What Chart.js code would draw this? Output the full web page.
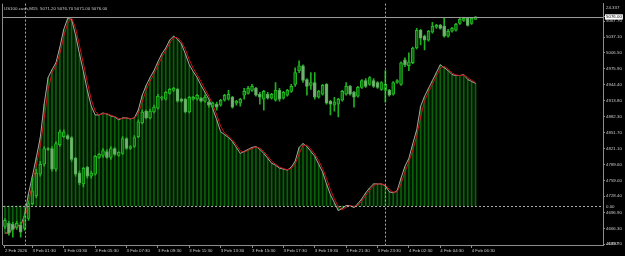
<!DOCTYPE html>
<html>
<head>
<meta charset="utf-8">
<script src="https://cdn.jsdelivr.net/npm/chart.js@4.4.1/dist/chart.umd.min.js"></script>
<style>
  html, body { margin: 0; padding: 0; background: #000; }
</style>
</head>
<body>
<canvas id="chart" width="625" height="256"></canvas>
<script>
// US100.cash M15 candles + oscillator overlay, 2-4 Feb 2026
const title = 'US100.cash,M15  5071.20 5076.70 5071.00 5076.00';
const slotCount = 153; // bars shown incl. empty shift on the right

const tickIndex = [0, 7, 15, 23, 31, 39, 47, 55, 63, 71, 79, 87, 95, 103, 111, 119];
const tickText = ['2 Feb 2026', '3 Feb 01:30', '3 Feb 03:30', '3 Feb 05:30', '3 Feb 07:30', '3 Feb 09:30',
    '3 Feb 11:30', '3 Feb 13:30', '3 Feb 15:30', '3 Feb 17:30', '3 Feb 19:30', '3 Feb 21:30',
    '3 Feb 23:30', '4 Feb 02:30', '4 Feb 04:30', '4 Feb 06:30'];
const daySeparators = [5, 97];

const priceTicks = [5067.70, 5037.10, 5006.50, 4975.90, 4944.40, 4913.80, 4882.30, 4851.70,
    4821.10, 4789.60, 4759.00, 4728.40, 4696.90, 4666.30, 4635.70];
const bidPrice = 5076.00;
const priceMin = 4634.0;
const priceMax = 5101.8;
const oscMin = -4.697;
const oscMax = 24.337;

const open = [4670.1, 4675.9, 4673.9, 4668.2, 4672.0, 4666.3, 4685.4, 4714.1, 4729.4, 4771.4,
    4790.5, 4821.0, 4821.0, 4780.9, 4828.7, 4843.9, 4845.9, 4842.0, 4801.9, 4773.3,
    4752.3, 4784.7, 4767.5, 4771.4, 4803.8, 4807.7, 4815.3, 4803.8, 4821.0, 4807.7,
    4811.5, 4840.1, 4821.0, 4824.9, 4843.9, 4870.7, 4893.6, 4880.2, 4891.7, 4899.3,
    4918.4, 4916.5, 4928.0, 4933.7, 4935.6, 4916.5, 4916.5, 4891.7, 4916.5, 4916.5,
    4918.4, 4912.7, 4910.8, 4903.2, 4907.0, 4905.1, 4914.6, 4916.5, 4920.4, 4908.9,
    4908.9, 4924.2, 4928.0, 4933.7, 4937.5, 4926.1, 4916.5, 4926.1, 4918.4, 4914.6,
    4933.7, 4918.4, 4924.2, 4931.8, 4945.2, 4971.9, 4981.5, 4954.7, 4943.3, 4949.0,
    4920.4, 4926.1, 4945.2, 4912.7, 4905.1, 4907.0, 4914.6, 4926.1, 4941.4, 4929.9,
    4922.3, 4939.4, 4952.8, 4945.2, 4952.8, 4949.0, 4935.6, 4933.7, 4933.7, 4926.1,
    4949.0, 4945.2, 4992.9, 4981.5, 4987.2, 5015.9, 5050.2, 5038.8, 5031.1, 5046.4,
    5056.0, 5059.8, 5057.9, 5038.8, 5048.3, 5050.2, 5063.6, 5069.3, 5073.2, 5063.6,
    5071.2];
const high = [4685.4, 4679.7, 4677.8, 4679.7, 4677.8, 4693.1, 4719.8, 4763.7, 4780.9, 4796.2,
    4824.9, 4822.9, 4824.9, 4834.4, 4857.3, 4857.3, 4847.8, 4843.9, 4803.8, 4777.1,
    4784.7, 4786.7, 4777.1, 4807.7, 4811.5, 4821.0, 4819.1, 4824.9, 4822.9, 4815.3,
    4843.9, 4842.0, 4826.8, 4845.9, 4876.4, 4895.5, 4895.5, 4897.4, 4905.1, 4926.1,
    4922.3, 4931.8, 4937.5, 4939.4, 4937.5, 4918.4, 4918.4, 4922.3, 4922.3, 4926.1,
    4920.4, 4924.2, 4912.7, 4910.8, 4910.8, 4916.5, 4926.1, 4933.7, 4922.3, 4914.6,
    4918.4, 4937.5, 4941.4, 4945.2, 4939.4, 4929.9, 4933.7, 4929.9, 4928.0, 4949.0,
    4937.5, 4931.8, 4935.6, 4945.2, 4977.6, 4991.0, 4983.4, 4956.6, 4968.1, 4968.1,
    4933.7, 4945.2, 4947.1, 4914.6, 4920.4, 4918.4, 4933.7, 4949.0, 4943.3, 4931.8,
    4941.4, 4954.7, 4956.6, 4960.5, 4956.6, 4950.9, 4950.9, 4971.9, 4935.6, 4950.9,
    4954.7, 4989.1, 4996.7, 5006.3, 5017.8, 5054.0, 5052.1, 5040.7, 5050.2, 5065.5,
    5061.7, 5061.7, 5073.2, 5052.1, 5056.0, 5063.6, 5073.2, 5075.1, 5075.1, 5075.1,
    5076.7];
const low = [4666.3, 4653.0, 4649.1, 4664.4, 4649.1, 4662.5, 4681.6, 4712.2, 4725.5, 4767.5,
    4786.7, 4817.2, 4777.1, 4777.1, 4824.9, 4842.0, 4838.2, 4796.2, 4767.5, 4750.4,
    4746.5, 4763.7, 4763.7, 4769.5, 4801.9, 4803.8, 4801.9, 4800.0, 4807.7, 4805.8,
    4809.6, 4819.1, 4819.1, 4822.9, 4842.0, 4868.8, 4878.3, 4878.3, 4889.8, 4897.4,
    4914.6, 4914.6, 4926.1, 4931.8, 4910.8, 4910.8, 4889.8, 4889.8, 4914.6, 4914.6,
    4910.8, 4910.8, 4901.3, 4899.3, 4895.5, 4903.2, 4912.7, 4914.6, 4899.3, 4905.1,
    4903.2, 4916.5, 4926.1, 4931.8, 4922.3, 4907.0, 4895.5, 4916.5, 4916.5, 4912.7,
    4912.7, 4916.5, 4922.3, 4929.9, 4941.4, 4968.1, 4949.0, 4924.2, 4935.6, 4916.5,
    4918.4, 4924.2, 4907.0, 4886.0, 4893.6, 4882.2, 4912.7, 4924.2, 4924.2, 4901.3,
    4920.4, 4937.5, 4939.4, 4943.3, 4939.4, 4937.5, 4933.7, 4910.8, 4922.3, 4924.2,
    4947.1, 4943.3, 4979.6, 4971.9, 4985.3, 5013.9, 5021.6, 5012.0, 5029.2, 5044.5,
    5054.0, 5052.1, 5036.9, 5036.9, 5046.4, 5048.3, 5061.7, 5067.4, 5057.9, 5061.7,
    5071.0];
const close = [4681.6, 4656.8, 4664.4, 4675.9, 4658.7, 4689.2, 4714.1, 4738.9, 4773.3, 4790.5,
    4821.0, 4819.1, 4780.9, 4830.6, 4853.5, 4853.5, 4840.1, 4800.0, 4771.4, 4754.2,
    4782.8, 4767.5, 4773.3, 4805.8, 4809.6, 4817.2, 4803.8, 4821.0, 4809.6, 4813.4,
    4840.1, 4821.0, 4824.9, 4842.0, 4872.6, 4891.7, 4880.2, 4893.6, 4901.3, 4922.3,
    4920.4, 4929.9, 4935.6, 4937.5, 4912.7, 4912.7, 4891.7, 4920.4, 4920.4, 4924.2,
    4912.7, 4920.4, 4905.1, 4908.9, 4901.3, 4914.6, 4924.2, 4926.1, 4901.3, 4912.7,
    4916.5, 4931.8, 4937.5, 4941.4, 4924.2, 4920.4, 4931.8, 4918.4, 4926.1, 4933.7,
    4916.5, 4929.9, 4933.7, 4941.4, 4968.1, 4981.5, 4952.8, 4941.4, 4949.0, 4920.4,
    4931.8, 4943.3, 4908.9, 4907.0, 4910.8, 4916.5, 4931.8, 4941.4, 4926.1, 4920.4,
    4939.4, 4952.8, 4941.4, 4958.6, 4941.4, 4939.4, 4949.0, 4945.2, 4924.2, 4949.0,
    4952.8, 4987.2, 4983.4, 4989.1, 5015.9, 5050.2, 5034.9, 5031.1, 5048.3, 5057.9,
    5059.8, 5054.0, 5038.8, 5048.3, 5054.0, 5061.7, 5071.2, 5073.2, 5059.8, 5073.2,
    5076.0];

// oscillator: histogram + main line share values, red = signal
const osc = [-3.27, -3.27, -2.68, -2.33, -2.33, -1.14, 1.47, 3.60, 5.85, 8.22,
    12.25, 15.45, 16.40, 17.23, 19.12, 21.26, 22.56, 22.44, 20.55, 18.30,
    16.16, 13.91, 12.01, 10.95, 10.95, 11.18, 11.06, 10.83, 10.71, 10.36,
    10.59, 10.59, 10.47, 10.59, 11.54, 13.32, 14.50, 15.45, 16.28, 17.35,
    18.30, 19.00, 19.95, 20.43, 20.07, 19.48, 18.30, 16.99, 16.16, 15.45,
    14.50, 13.67, 12.84, 11.66, 10.36, 8.93, 8.58, 8.22, 7.75, 7.04,
    6.32, 6.56, 6.80, 7.04, 7.15, 6.80, 6.32, 5.73, 5.14, 4.90,
    4.55, 4.43, 4.31, 4.67, 5.38, 7.04, 7.51, 7.15, 6.56, 5.97,
    5.02, 4.07, 2.65, 1.35, 0.40, -0.55, -0.31, 0.05, 0.05, -0.19,
    0.28, 0.87, 1.58, 2.18, 2.65, 2.65, 2.65, 2.41, 1.70, 1.58,
    1.82, 3.36, 4.78, 5.73, 7.51, 9.17, 12.01, 13.20, 14.15, 15.09,
    16.04, 16.99, 16.64, 16.28, 15.80, 15.69, 15.69, 15.80, 15.21, 14.98,
    14.74];
const signal = [-3.30, -3.27, -2.90, -2.50, -2.33, -1.60, 0.40, 2.70, 4.90, 7.20,
    10.50, 14.00, 16.00, 16.90, 18.30, 20.40, 22.00, 22.60, 21.40, 19.30,
    17.10, 14.90, 12.80, 11.40, 10.95, 11.10, 11.10, 10.90, 10.75, 10.50,
    10.50, 10.59, 10.52, 10.55, 11.10, 12.50, 13.95, 15.00, 15.90, 16.85,
    17.90, 18.70, 19.55, 20.25, 20.25, 19.75, 18.85, 17.60, 16.55, 15.80,
    14.95, 14.05, 13.20, 12.20, 10.95, 9.60, 8.75, 8.40, 7.95, 7.35,
    6.65, 6.45, 6.70, 6.90, 7.10, 6.95, 6.55, 6.00, 5.40, 5.00,
    4.70, 4.50, 4.35, 4.50, 5.05, 6.25, 7.30, 7.30, 6.85, 6.25,
    5.45, 4.50, 3.30, 1.95, 0.85, -0.10, -0.45, -0.15, 0.05, -0.08,
    0.08, 0.60, 1.25, 1.90, 2.45, 2.65, 2.65, 2.50, 2.00, 1.65,
    1.70, 2.65, 4.10, 5.30, 6.70, 8.40, 10.70, 12.65, 13.70, 14.65,
    15.60, 16.55, 16.80, 16.45, 16.00, 15.75, 15.69, 15.75, 15.45, 15.10,
    14.85];

const labels = Array.from({ length: slotCount }, (_, i) => {
    const k = tickIndex.indexOf(i);
    return k >= 0 ? tickText[k] : '';
});
const isBull = i => close[i] >= open[i];

const FONT = 'Liberation Sans';
const TXT = '#c8c8c8';
const AXIS = '#8c8c8c';
Chart.defaults.font.family = FONT;
Chart.defaults.font.size = 4.4;

// separators, zero level, bid line, frame and the oscillator labels
const overlay = {
    id: 'overlay',
    afterDatasetsDraw(chart) {
        const { ctx, chartArea: a, scales } = chart;
        const x = scales.x, y = scales.y, yi = scales.yi;
        ctx.save();
        ctx.lineWidth = 1;
        ctx.strokeStyle = '#a8a8a8';
        ctx.setLineDash([2, 2]);
        daySeparators.forEach(i => {
            const px = Math.round(x.getPixelForValue(i)) + 0.5;
            ctx.beginPath(); ctx.moveTo(px, a.top); ctx.lineTo(px, a.bottom); ctx.stroke();
        });
        const zy = Math.round(yi.getPixelForValue(0)) + 0.5;
        ctx.beginPath(); ctx.moveTo(a.left, zy); ctx.lineTo(a.right, zy); ctx.stroke();
        ctx.setLineDash([]);
        ctx.strokeStyle = '#9a9a9a';
        const by = Math.round(y.getPixelForValue(bidPrice)) + 0.5;
        ctx.beginPath(); ctx.moveTo(a.left, by); ctx.lineTo(a.right, by); ctx.stroke();
        ctx.strokeStyle = AXIS;
        ctx.beginPath(); ctx.moveTo(a.left - 0.5, a.top); ctx.lineTo(a.left - 0.5, a.bottom); ctx.stroke();

        ctx.font = '4.4px "' + FONT + '"';
        ctx.fillStyle = TXT;
        ctx.textBaseline = 'middle';
        ctx.textAlign = 'left';
        ctx.fillText(title, a.left + 1, a.top + 5);
        ctx.fillText(oscMax.toFixed(3), a.right + 3, a.top + 4);
        ctx.fillText('0.00', a.right + 3, zy);
        ctx.fillText(oscMin.toFixed(3), a.right + 3, a.bottom - 1);
        ctx.restore();
    }
};

new Chart(document.getElementById('chart'), {
    type: 'bar',
    data: {
        labels: labels,
        datasets: [
            {
                // histogram of the oscillator
                type: 'bar',
                data: osc,
                yAxisID: 'yi',
                grouped: false,
                barThickness: 1,
                backgroundColor: '#0b600b',
                order: 6
            },
            {
                type: 'line',
                data: osc,
                yAxisID: 'yi',
                borderColor: '#a8a8a8',
                borderWidth: 1,
                pointRadius: 0,
                fill: { value: 0 },
                backgroundColor: 'rgba(0, 22, 0, 1)',
                order: 5
            },
            {
                type: 'line',
                data: signal,
                yAxisID: 'yi',
                borderColor: '#c81414',
                borderWidth: 1,
                pointRadius: 0,
                fill: false,
                order: 4
            },
            {
                // wicks
                type: 'bar',
                data: low.map((l, i) => [l, high[i]]),
                yAxisID: 'y',
                grouped: false,
                barThickness: 1,
                backgroundColor: '#1fb01f',
                order: 2
            },
            {
                // bodies
                type: 'bar',
                data: open.map((o, i) => [Math.min(o, close[i]), Math.max(o, close[i])]),
                yAxisID: 'y',
                grouped: false,
                barThickness: 3,
                minBarLength: 1,
                borderSkipped: false,
                borderWidth: 1,
                borderColor: ctx => isBull(ctx.dataIndex) ? '#22b822' : '#5aa85a',
                backgroundColor: ctx => isBull(ctx.dataIndex) ? '#0d6a0d' : '#74b474',
                order: 1
            }
        ]
    },
    options: {
        responsive: false,
        animation: false,
        devicePixelRatio: 1,
        layout: { padding: { left: 3, top: 0, right: 0, bottom: 0 } },
        plugins: {
            legend: { display: false },
            tooltip: { enabled: false },
            filler: { drawTime: 'beforeDatasetsDraw' }
        },
        scales: {
            x: {
                type: 'category',
                offset: true,
                afterFit: s => { s.height = 11; },
                border: { color: AXIS },
                grid: {
                    offset: false,
                    drawOnChartArea: false,
                    tickLength: 3,
                    color: ctx => (ctx.tick && labels[ctx.index]) ? AXIS : 'rgba(0,0,0,0)'
                },
                ticks: {
                    autoSkip: false,
                    maxRotation: 0,
                    minRotation: 0,
                    align: 'start',
                    padding: 0,
                    color: TXT,
                    font: { size: 4.4 }
                }
            },
            y: {
                position: 'right',
                min: priceMin,
                max: priceMax,
                afterFit: s => { s.width = 22; },
                afterBuildTicks: s => {
                    s.ticks = priceTicks.concat([bidPrice]).map(v => ({ value: v }));
                },
                border: { color: AXIS },
                grid: { drawOnChartArea: false, tickLength: 2, color: AXIS },
                ticks: {
                    autoSkip: false,
                    padding: 1,
                    font: { size: 4.4 },
                    color: ctx => ctx.tick && ctx.tick.value === bidPrice ? '#000' : TXT,
                    showLabelBackdrop: ctx => !!(ctx.tick && ctx.tick.value === bidPrice),
                    backdropColor: '#ffffff',
                    backdropPadding: { top: 0, bottom: 0, left: 1, right: 1 },
                    callback: v => Number(v).toFixed(2)
                }
            },
            yi: {
                display: false,
                min: oscMin,
                max: oscMax
            }
        }
    },
    plugins: [overlay]
});
</script>
</body>
</html>
